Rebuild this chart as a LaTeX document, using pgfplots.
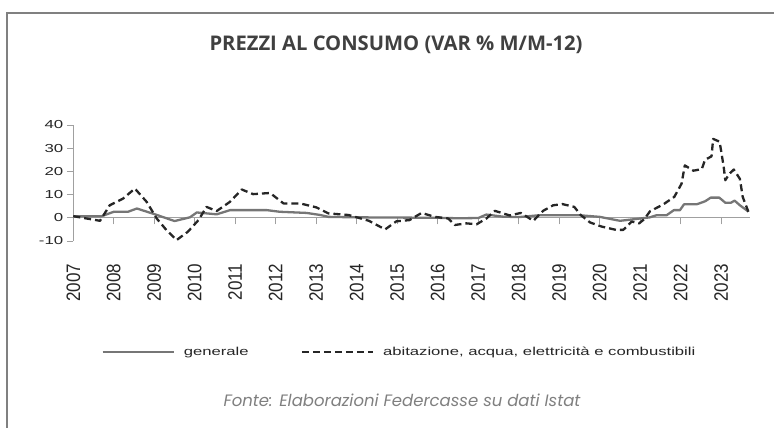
\documentclass[border=0pt]{standalone}
\usepackage{pgfplots}
\pgfplotsset{compat=1.18}
\usepackage{fontspec}
\setmainfont{Liberation Sans}
\newfontfamily\widefont{Liberation Sans}[FakeStretch=1.45]
\newfontfamily\titlefont{Open Sans}
\newfontfamily\srcfont{Poppins}
\definecolor{axisgray}{HTML}{A0A0A0}
\definecolor{framegray}{HTML}{808080}
\definecolor{titlegray}{HTML}{404040}
\definecolor{srcgray}{HTML}{7F7F7F}
\definecolor{gensolid}{HTML}{767676}
\definecolor{abidash}{HTML}{262626}
\begin{document}
\begin{tikzpicture}[x=1pt,y=1pt]
\path[use as bounding box] (0,0) rectangle (774,428);
\draw[color=framegray, line width=1.2pt] (7,0) -- (7,415) -- (774,415);
\node[font=\titlefont\bfseries\fontsize{20.2}{20}\selectfont, text=titlegray] at (396,383) {PREZZI AL CONSUMO (VAR \% M/M-12)};
\begin{axis}[
  at={(73.3pt,187pt)}, anchor=south west, scale only axis,
  width=676.7pt, height=116pt,
  xmin=2007, xmax=2023.71, ymin=-10, ymax=40,
  axis x line*=middle, axis y line*=left,
  axis line style={color=axisgray, line width=0.9pt},
  tick style={color=axisgray, line width=0.9pt},
  major tick length=6.5pt,
  tick align=outside,
  hide obscured x ticks=false, hide obscured y ticks=false,
  xtick={2007,...,2023}, ytick={-10,0,10,20,30,40},
  /pgf/number format/1000 sep={},
  /pgf/number format/assume math mode=true,
  xticklabel={\scalebox{1.31}[1.5]{\fontsize{13}{13}\selectfont\pgfmathprintnumber{\tick}}},
  xticklabel style={rotate=90, anchor=east, text=black!85},
  xticklabel shift=36pt,
  yticklabel={\widefont\fontsize{11.6}{12}\selectfont\pgfmathprintnumber{\tick}},
  yticklabel style={text=black!85},
  legend columns=2,
  legend style={draw=none, fill=none, at={(axis description cs:0.482,-0.957)}, anchor=center,
    font=\widefont\fontsize{11.5}{12}\selectfont, text=black!85,
    /tikz/every even column/.append style={column sep=50pt}},
  legend image code/.code={\draw[#1] (0pt,0pt) -- (71pt,0pt);},
  clip=false,
]
\addplot[color=gensolid, line width=2.3pt, line join=round] coordinates {
(2007.0,0.7) (2007.7,0.7) (2008.0,2.6) (2008.35,2.6) (2008.57,4.0) (2009.0,1.6)
(2009.5,-1.4) (2009.88,0.2) (2010.05,2.3) (2010.54,1.5) (2010.87,3.3) (2011.78,3.3)
(2012.1,2.6) (2012.76,2.1) (2013.1,1.2) (2013.3,0.4) (2014.0,0.2) (2015.0,0.1)
(2016.0,0.0) (2016.5,-0.2) (2017.0,-0.1) (2017.2,1.4) (2017.6,0.5) (2018.0,0.3)
(2018.5,1.1) (2019.5,1.1) (2020.0,0.4) (2020.5,-1.3) (2021.0,-0.3) (2021.24,0.2)
(2021.4,1.1) (2021.65,1.1) (2021.83,3.3) (2021.98,3.3) (2022.08,5.8) (2022.39,5.8)
(2022.6,7.1) (2022.74,8.7) (2022.95,8.7) (2023.1,6.5) (2023.24,6.5) (2023.33,7.4)
(2023.46,5.4) (2023.67,2.7)
};
\addlegendentry{\hspace{7pt}generale}
\addplot[color=abidash, line width=2.3pt, dash pattern=on 7pt off 4pt, line join=round] coordinates {
(2007.0,0.7) (2007.66,-1.3) (2007.9,5.4) (2008.23,8.3) (2008.52,12.6) (2008.81,6.9)
(2009.06,-0.3) (2009.3,-5.3) (2009.55,-9.6) (2009.83,-6) (2010.09,-1) (2010.29,4.7)
(2010.54,2.9) (2010.87,6.9) (2011.16,12.2) (2011.44,10.2) (2011.86,10.7) (2012.19,6.2)
(2012.6,6.2) (2013.0,4.5) (2013.3,1.9) (2013.8,1.2) (2014.3,-1.3) (2014.7,-5)
(2014.98,-1.5) (2015.3,-1) (2015.6,2.1) (2015.93,0.4) (2016.26,-0.3) (2016.42,-3.1)
(2016.71,-2.4) (2016.96,-2.8) (2017.2,-0.3) (2017.41,3) (2017.78,1) (2018.05,2.1)
(2018.36,-1.3) (2018.6,3) (2018.85,5.4) (2019.08,5.9) (2019.37,4.7) (2019.53,1.2)
(2019.76,-2.0) (2020.05,-3.8) (2020.4,-5.2) (2020.58,-5.2) (2020.79,-1.6) (2020.97,-2.4)
(2021.1,-0.6) (2021.24,2.8) (2021.57,5.8) (2021.84,9) (2022.02,14.7) (2022.1,22.6)
(2022.31,20.3) (2022.52,21) (2022.6,25) (2022.76,26.5) (2022.8,34) (2022.96,32.8)
(2023.06,22) (2023.1,16.2) (2023.2,19) (2023.31,20.8) (2023.46,16.8) (2023.53,9)
(2023.67,2.6)
};
\addlegendentry{\hspace{7pt}abitazione, acqua, elettricità e combustibili}
\end{axis}
\node[font=\srcfont\itshape\fontsize{16.5}{17}\selectfont, text=srcgray] at (402,28) {Fonte: Elaborazioni Federcasse su dati Istat};
\end{tikzpicture}
\end{document}
